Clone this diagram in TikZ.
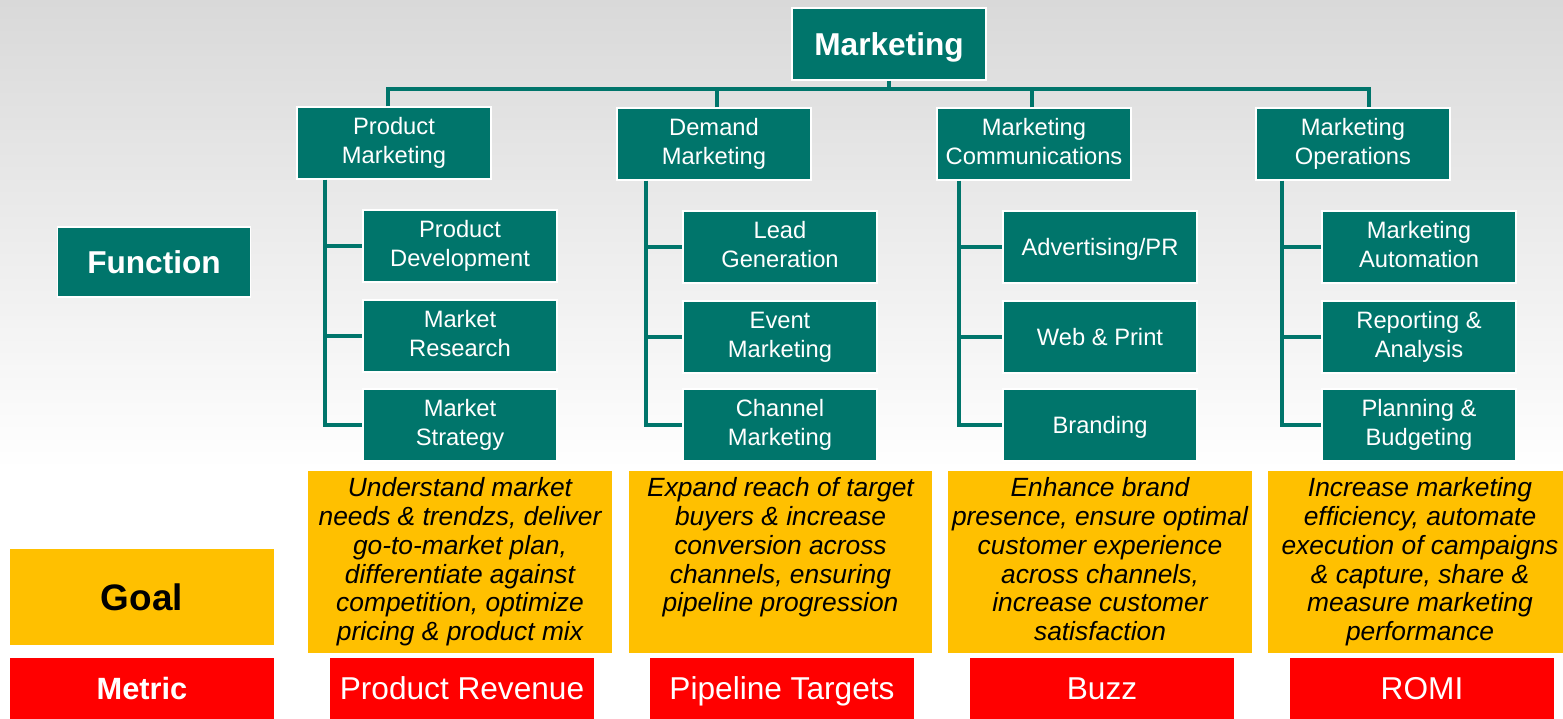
\documentclass[tikz,border=0pt]{standalone}
\usepackage{fontspec}
\setmainfont{Liberation Sans}
\usepackage{tikz}
\usetikzlibrary{positioning,calc}
\definecolor{OrgTeal}{HTML}{00756B}
\definecolor{GoalGold}{HTML}{FFC000}
\definecolor{MetricRed}{HTML}{FF0000}
\definecolor{BgGray}{HTML}{D9D9D9}
% strut that keeps the capitals centred in a box
\newcommand{\capstrut}{\rule[-0.22em]{0pt}{1.16em}}

\tikzset{
  boxtext/.style={inner sep=0pt,execute at begin node=\capstrut,execute at end node=\capstrut},
  unit/.style={boxtext,draw=white,line width=0.8pt,fill=OrgTeal,text=white,align=center,
    minimum width=3.88cm,minimum height=1.44cm,font=\fontsize{13.5}{16.5}\selectfont},
  head/.style={unit,font=\bfseries\fontsize{18}{21}\selectfont},
  link/.style={OrgTeal,line width=2.2pt},
  goal/.style={boxtext,fill=GoalGold,align=center,
    minimum width=6.08cm,minimum height=3.64cm,font=\itshape\fontsize{15}{16.4}\selectfont},
  metric/.style={boxtext,fill=MetricRed,text=white,
    minimum width=5.28cm,minimum height=1.22cm,font=\fontsize{18}{21}\selectfont},
}

\begin{document}
\begin{tikzpicture}[x=0.02cm,y=-0.02cm]
  \useasboundingbox (0,0) rectangle (1563,719);
  % grey fade behind the tree
  \shade[top color=BgGray,middle color=BgGray!55!white,bottom color=white] (0,0) rectangle (1563,470);

  % top level and the four functions
  \node[head] (mkt) at (889,44) {Marketing};
  \coordinate (bus) at (889,89);
  \node[unit] (pm) at (394,143) {Product\\Marketing};
  \node[unit] (dm) at (714,144) {Demand\\Marketing};
  \node[unit] (mc) at (1034,144) {Marketing\\Communications};
  \node[unit] (mo) at (1353,144) {Marketing\\Operations};
  \draw[link] (mkt.south) -- (bus);
  \draw[link] ([xshift=-0.12cm]pm.north) |- (bus) -| ([xshift=0.32cm]mo.north);
  \draw[link] ([xshift=0.06cm]dm.north) -- ([xshift=0.06cm]dm.north |- bus);
  \draw[link] ([xshift=-0.04cm]mc.north) -- ([xshift=-0.04cm]mc.north |- bus);

  % sub-functions
  \node[unit] (pm1) at (460,246) {Product\\Development};
  \node[unit] (pm2) at (460,336) {Market\\Research};
  \node[unit] (pm3) at (460,425) {Market\\Strategy};
  \node[unit] (dm1) at (780,247) {Lead\\Generation};
  \node[unit] (dm2) at (780,337) {Event\\Marketing};
  \node[unit] (dm3) at (780,425) {Channel\\Marketing};
  \node[unit] (mc1) at (1100,247) {Advertising/PR};
  \node[unit] (mc2) at (1100,337) {Web \& Print};
  \node[unit] (mc3) at (1100,425) {Branding};
  \node[unit] (mo1) at (1419,247) {Marketing\\Automation};
  \node[unit] (mo2) at (1419,337) {Reporting \&\\Analysis};
  \node[unit] (mo3) at (1419,425) {Planning \&\\Budgeting};

  \draw[link] ($(pm.south west)+(29,0)$) coordinate (pmx) |- (pm3.west);
  \draw[link] (pmx |- pm1.west) -- (pm1.west);
  \draw[link] (pmx |- pm2.west) -- (pm2.west);
  \draw[link] ($(dm.south west)+(30,0)$) coordinate (dmx) |- (dm3.west);
  \draw[link] (dmx |- dm1.west) -- (dm1.west);
  \draw[link] (dmx |- dm2.west) -- (dm2.west);
  \draw[link] ($(mc.south west)+(23,0)$) coordinate (mcx) |- (mc3.west);
  \draw[link] (mcx |- mc1.west) -- (mc1.west);
  \draw[link] (mcx |- mc2.west) -- (mc2.west);
  \draw[link] ($(mo.south west)+(27,0)$) coordinate (mox) |- (mo3.west);
  \draw[link] (mox |- mo1.west) -- (mo1.west);
  \draw[link] (mox |- mo2.west) -- (mo2.west);

  % row labels
  \node[head,minimum width=3.86cm,minimum height=1.4cm] (func) at (154,262) {Function};
  \node[boxtext,fill=GoalGold,minimum width=5.28cm,minimum height=1.92cm,
    font=\bfseries\fontsize{21}{24}\selectfont] (goal) at (142,597) {Goal};
  \node[metric,font=\bfseries\fontsize{17.5}{20}\selectfont] (metric) at (142,688.5) {Metric};

  % goals
  \node[goal] (pmg) at (460,562) {Understand market\\needs \& trendzs, deliver\\go-to-market plan,\\differentiate against\\competition, optimize\\pricing \& product mix};
  \node[goal] (dmg) at (780.5,562) {Expand reach of target\\buyers \& increase\\conversion across\\channels, ensuring\\pipeline progression\\ };
  \node[goal] (mcg) at (1100,562) {Enhance brand\\presence, ensure optimal\\customer experience\\across channels,\\increase customer\\satisfaction};
  \node[goal] (mog) at (1420,562) {Increase marketing\\efficiency, automate\\execution of campaigns\\\& capture, share \&\\measure marketing\\performance};

  % metrics
  \node[metric] (pmm) at (462,688.5) {Product Revenue};
  \node[metric] (dmm) at (782,688.5) {Pipeline Targets};
  \node[metric] (mcm) at (1102,688.5) {Buzz};
  \node[metric] (mom) at (1422,688.5) {ROMI};
\end{tikzpicture}
\end{document}
